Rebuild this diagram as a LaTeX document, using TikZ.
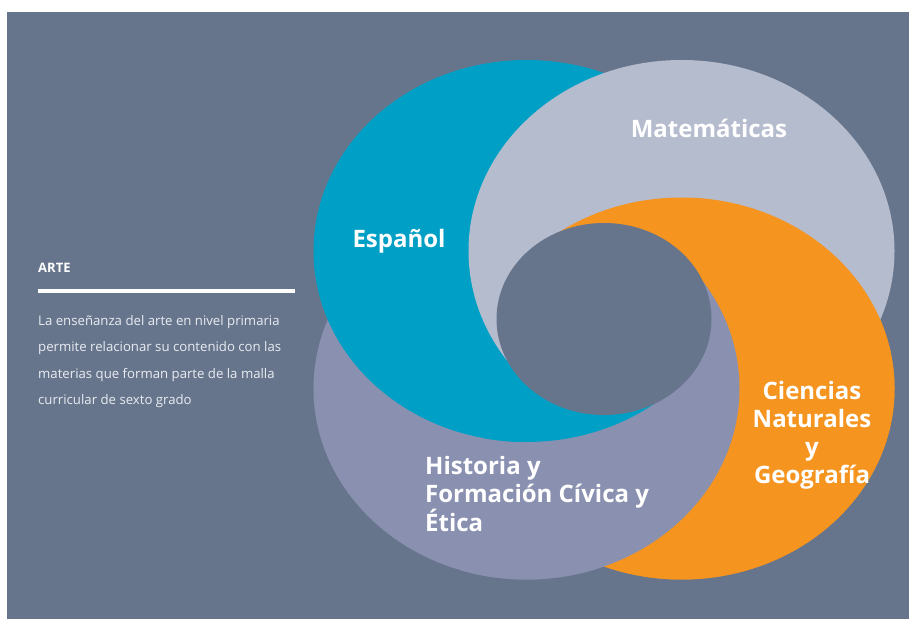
\documentclass[tikz,border=0pt]{standalone}
\usepackage{fontspec}
\setmainfont{Open Sans}
\definecolor{bgslate}{HTML}{67758C}
\definecolor{cblue}{HTML}{00A0C6}
\definecolor{cmates}{HTML}{B5BCCE}
\definecolor{corange}{HTML}{F5941F}
\definecolor{chist}{HTML}{8A90B0}
\definecolor{ctext}{HTML}{E8ECF1}
\newcommand\drawBlue{\fill[cblue] (526.5,368) ellipse [x radius=213, y radius=191];}
\newcommand\drawMates{\fill[cmates] (681.5,368) ellipse [x radius=213, y radius=191];}
\newcommand\drawOrange{\fill[corange] (681.5,230.5) ellipse [x radius=213, y radius=191];}
\newcommand\drawHist{\fill[chist] (526.5,230.5) ellipse [x radius=213, y radius=191];}
\newcommand\wedgeclip[2]{\clip (604,300) -- ++(#1:1200) arc[start angle=#1, end angle=#2, radius=1200] -- cycle;}
\tikzset{
  biglbl/.style={text=white, font=\fontsize{24}{28}\selectfont\bfseries, inner sep=0pt},
  smalltxt/.style={text=ctext, font=\fontsize{13.2}{26.3}\selectfont, inner sep=0pt, align=left},
}
\begin{document}
\begin{tikzpicture}[x=1pt,y=1pt]
\useasboundingbox (0,0) rectangle (909,619);
\fill[white] (0,0) rectangle (909,619);
\fill[bgslate] (7,0) rectangle (909,607);
% base layer (correct on the left side)
\drawOrange\drawHist\drawBlue\drawMates
% orange over matematicas (top / right)
\begin{scope}\wedgeclip{-90}{125}\drawOrange\end{scope}
% historia over orange (right / bottom)
\begin{scope}\wedgeclip{-120}{35}\drawHist\end{scope}
% espanol tip over historia (bottom)
\begin{scope}\wedgeclip{-135}{-42}\drawBlue\end{scope}
% hole
\fill[bgslate] (604,300) ellipse [x radius=107.5, y radius=96];
% labels
\node[biglbl] (mat) at (709,491) {Matemáticas};
\node[biglbl] (esp) at (399,378) {Español};
\node[biglbl, align=center] (cie) at (812,184) {Ciencias\\Naturales\\y\\Geografía};
\node[biglbl, align=left, anchor=west] (his) at (425,125) {Historia y\\Formación Cívica y\\Ética};
% left panel
\node[text=white, font=\fontsize{13}{15}\selectfont\bfseries, inner sep=0pt, anchor=west] (arte) at (38,351) {ARTE};
\coordinate (l1) at (38,328);
\coordinate (l2) at (295,328);
\draw[white, line width=3.8pt] (l1) -- (l2);
\node[smalltxt, anchor=west] (par) at (38,257.5) {La enseñanza del arte en nivel primaria\\permite relacionar su contenido con las\\materias que forman parte de la malla\\curricular de sexto grado};
\end{tikzpicture}
\end{document}
